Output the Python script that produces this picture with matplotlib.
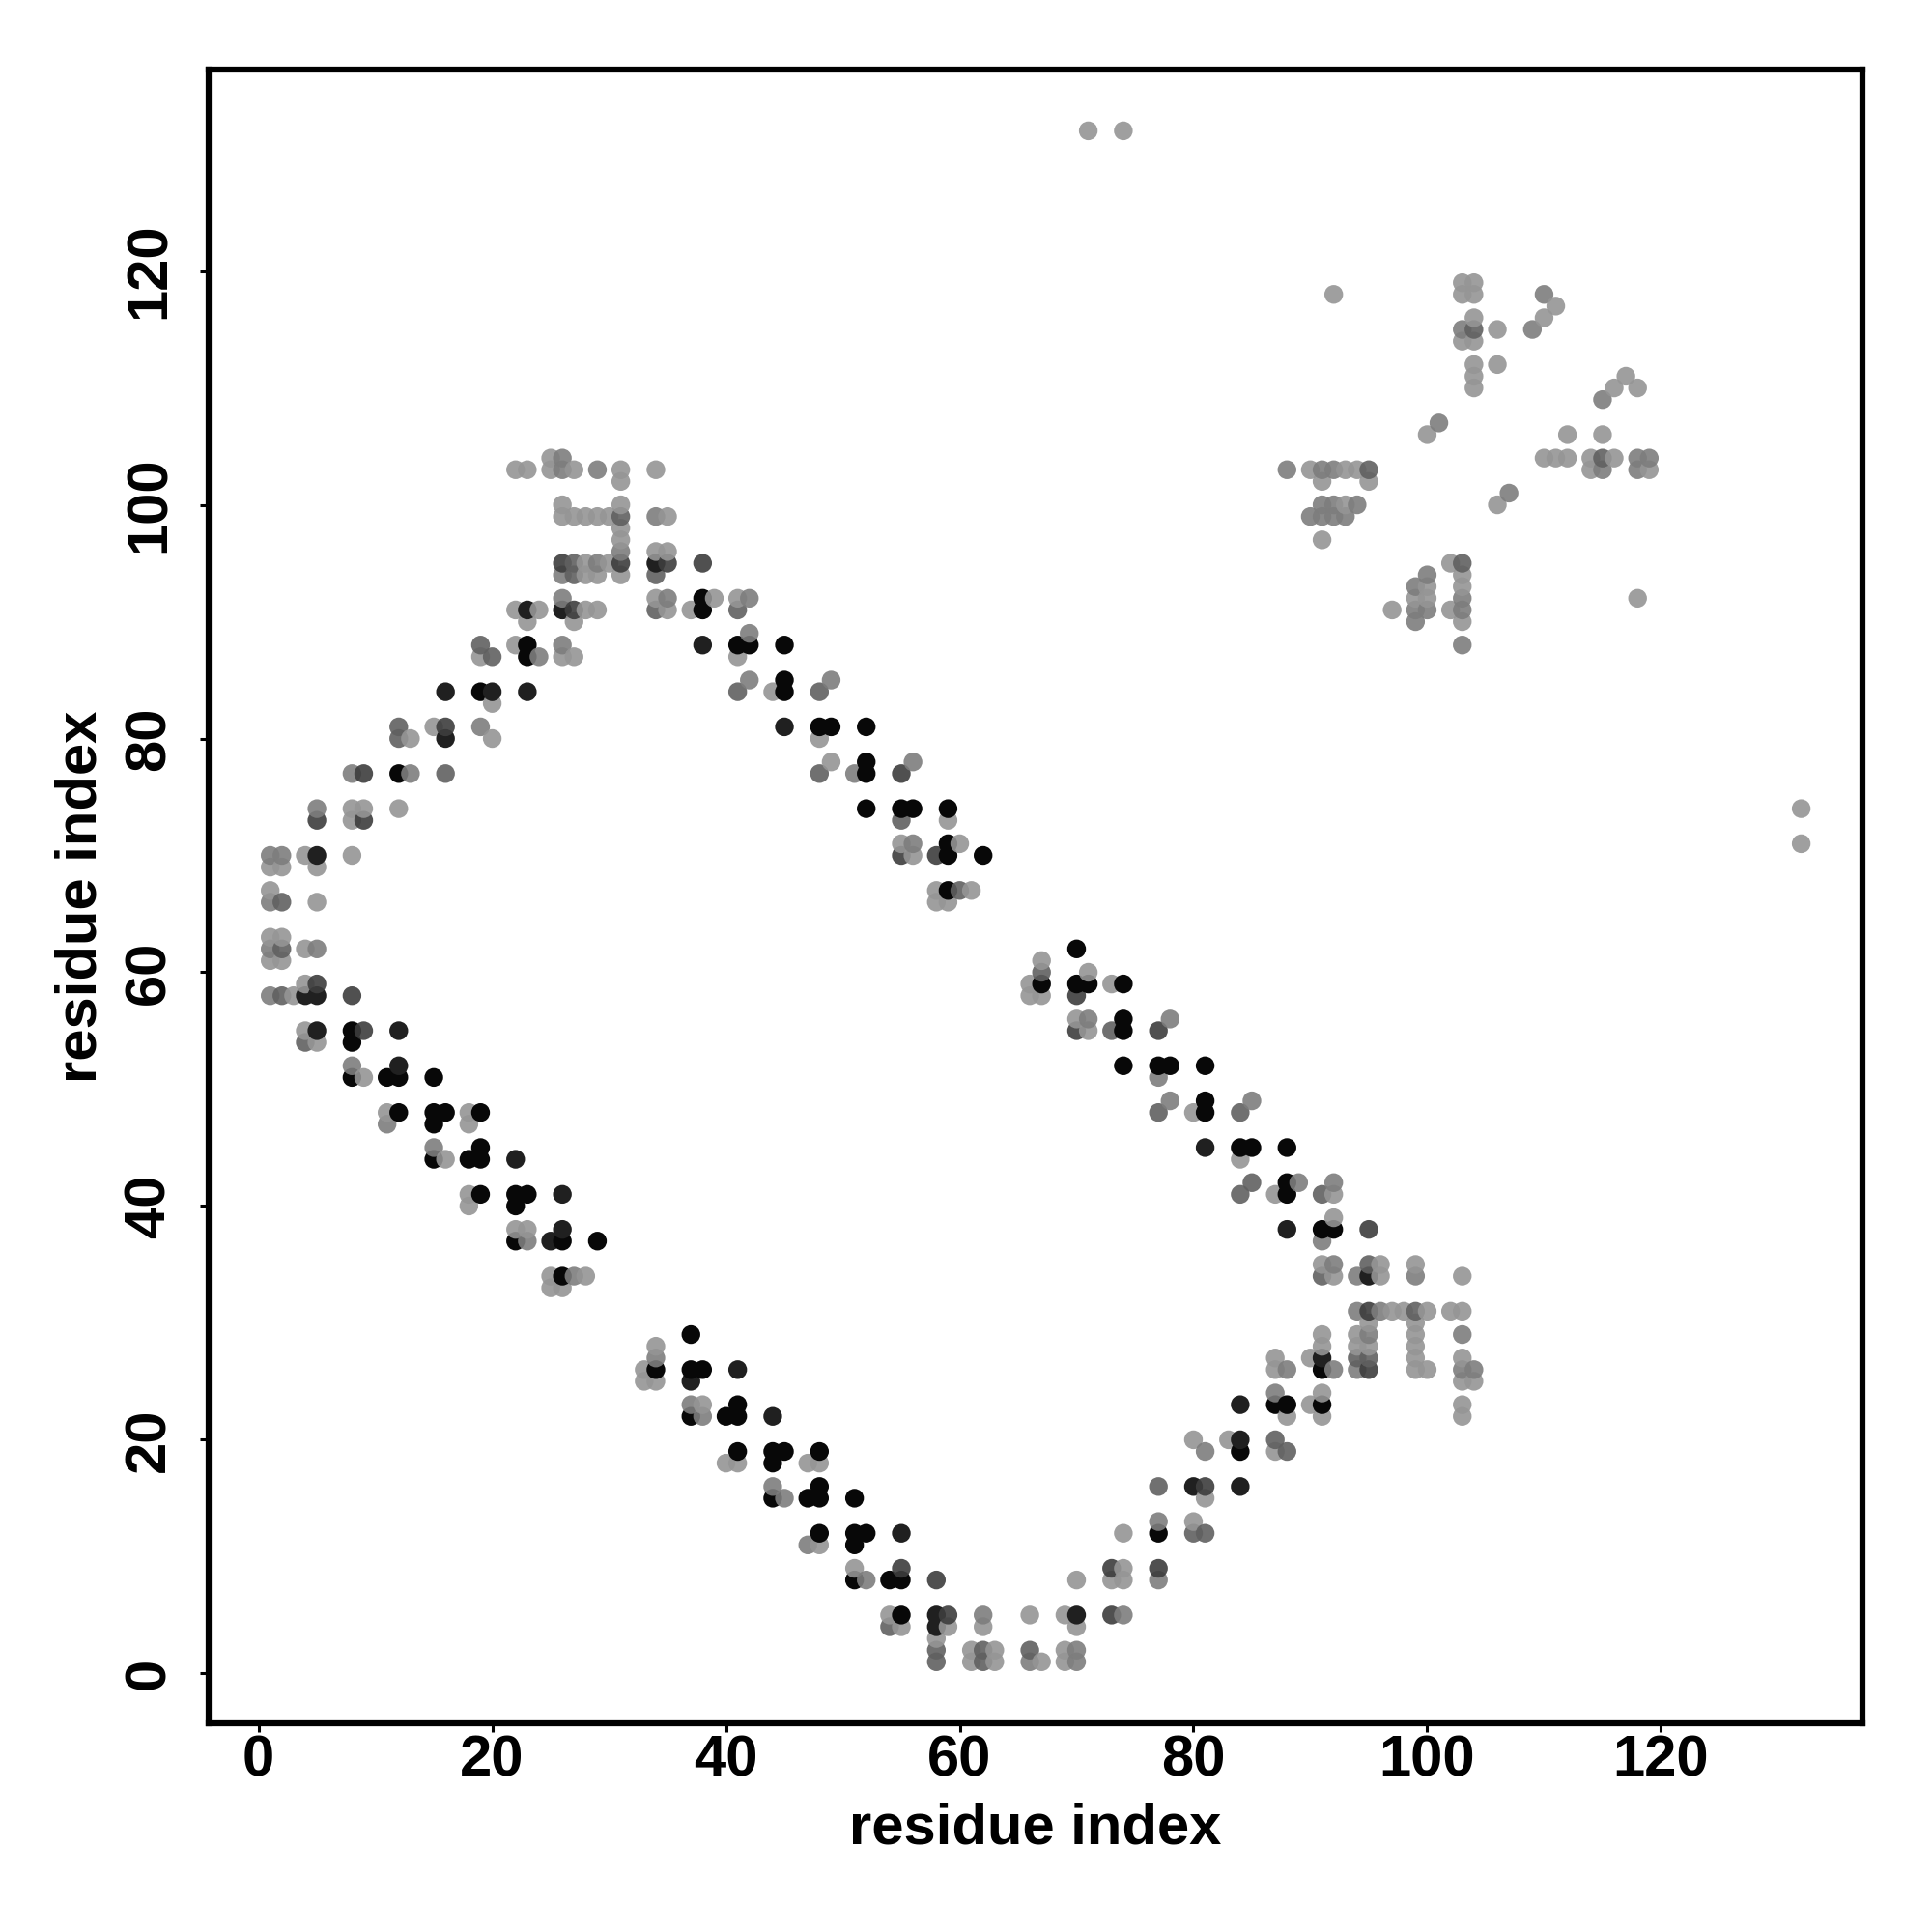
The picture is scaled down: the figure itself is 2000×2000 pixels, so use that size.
import numpy as np
import matplotlib
matplotlib.use("Agg")
from matplotlib import pyplot as plt

plt.rcParams['font.family'] = ['Liberation Sans', 'DejaVu Sans']

# contacts, one entry per row of the map
y_rows = [132, 119, 118, 117, 116, 115, 114, 112, 111, 110, 109, 107, 106, 104, 103, 102, 101, 100,
          99, 98, 97, 96, 95, 94, 93, 92, 91, 90, 89, 88, 87, 85, 84, 83, 81, 80, 78, 77, 74, 73,
          71, 70, 69, 67, 66, 63, 62, 61, 60, 59, 58, 56, 55, 54, 52, 51, 49, 48, 47, 45, 44, 42,
          41, 40, 39, 38, 37, 35, 34, 33, 31, 30, 29, 28, 27, 26, 25, 24, 23, 22, 20, 19, 18, 16,
          15, 13, 12, 11, 9, 8, 5, 4, 3, 2, 1]
x_rows = [
    [71, 74], [103, 104], [92, 103, 104, 110], [111], [104, 110], [103, 104, 106, 109], [103, 104],
    [104, 106], [104, 117], [104, 116, 118], [115], [101], [100, 112, 115],
    [25, 26, 110, 111, 112, 114, 115, 116, 118, 119],
    [22, 23, 25, 26, 27, 29, 31, 34, 88, 90, 91, 92, 93, 94, 95, 114, 115, 118, 119],
    [31, 91, 95], [107], [26, 31, 91, 92, 93, 94, 106],
    [26, 27, 28, 29, 30, 31, 34, 35, 90, 91, 92, 93], [31], [31, 91], [31, 34, 35],
    [26, 27, 28, 29, 30, 31, 34, 35, 38, 102, 103],
    [26, 27, 28, 29, 31, 34, 100, 103], [99, 100, 103],
    [26, 34, 35, 38, 39, 41, 42, 99, 100, 103, 118],
    [22, 23, 24, 26, 27, 28, 29, 34, 35, 37, 38, 41, 97, 99, 100, 102, 103],
    [23, 27, 99, 103], [42], [19, 22, 23, 26, 38, 41, 42, 45, 103],
    [19, 20, 23, 24, 26, 27, 41], [42, 45, 49], [16, 19, 20, 23, 41, 44, 45, 48], [20],
    [12, 15, 16, 19, 45, 48, 49, 52], [12, 13, 16, 20, 48], [49, 52, 56],
    [8, 9, 12, 13, 16, 48, 51, 52, 55], [5, 8, 9, 12, 52, 55, 56, 59, 132], [5, 8, 9, 55, 59],
    [55, 56, 59, 60, 132], [1, 2, 4, 5, 8, 55, 56, 58, 59, 62], [1, 2, 5], [1, 58, 59, 60, 61],
    [1, 2, 5, 58, 59], [1, 2], [1, 2, 4, 5, 70], [1, 2, 67], [67, 71],
    [4, 5, 66, 67, 70, 71, 73, 74], [1, 2, 3, 4, 5, 8, 66, 67, 70], [70, 71, 74, 78],
    [4, 5, 8, 9, 12, 70, 71, 73, 74, 77], [4, 5, 8], [8, 12, 74, 77, 78, 81],
    [8, 9, 11, 12, 15, 77], [78, 81, 85], [11, 12, 15, 16, 18, 19, 77, 80, 81, 84], [11, 15, 18],
    [15, 19, 81, 84, 85, 88], [15, 16, 18, 19, 22, 84], [85, 88, 89, 92],
    [18, 19, 22, 23, 26, 84, 87, 88, 91, 92], [18, 22], [92], [22, 23, 26, 88, 91, 92, 95],
    [22, 23, 25, 26, 29, 91], [91, 92, 95, 96, 99],
    [25, 26, 27, 28, 91, 92, 94, 95, 96, 99, 103], [25, 26],
    [94, 95, 96, 97, 98, 99, 100, 102, 103], [95, 99], [37, 91, 94, 95, 99, 103],
    [34, 91, 94, 95, 99], [34, 87, 90, 91, 94, 95, 99, 103],
    [33, 34, 37, 38, 41, 87, 88, 91, 92, 94, 95, 99, 100, 103, 104], [33, 34, 37, 103, 104],
    [87, 91], [37, 38, 41, 84, 87, 88, 90, 91, 103], [37, 38, 40, 41, 44, 88, 91, 103],
    [80, 83, 84, 87], [41, 44, 45, 48, 81, 84, 87, 88], [40, 41, 44, 47, 48],
    [44, 48, 77, 80, 81, 84], [44, 45, 47, 48, 51, 81], [77, 80],
    [48, 51, 52, 55, 74, 77, 80, 81], [47, 48, 51], [51, 55, 73, 74, 77],
    [51, 52, 54, 55, 58, 70, 73, 74, 77], [54, 55, 58, 59, 62, 66, 69, 70, 73, 74],
    [54, 55, 58, 59, 62, 70], [58], [58, 61, 62, 63, 66, 69, 70], [58, 61, 62, 63, 66, 67, 69, 70],
]
# shade of each contact, same order: P pale, M mid, S slate, D dim, N near black, K black
shade_rows = [
    "PP", "PP", "PPPM", "P", "PP", "MSPM", "PP",
    "PP", "PP", "PPP", "M", "M", "PPP",
    "PMPPPPSPMM",
    "PPPMPMPPMPMMPPSPMMP",
    "PPP", "M", "PPMMPMP",
    "PPPPPSMPMMMM", "P", "PP", "MPP",
    "DSPMPDNDDPS",
    "MSPPPSMP", "MPP",
    "MPMKPPMPPMP",
    "PNPNDPPSPPKSPMMPM",
    "PPMP", "M", "SPKMNKKKM",
    "PSKMPPP", "MKM", "NKNNSPKS", "P",
    "SPDMNKKK", "SPNPP", "PKM",
    "MDKMSSMKD", "MPPPKKKKP", "DPDSP",
    "PMKPP", "MMPNPDPDKK", "PPP", "PPKSP",
    "MSPPP", "PP", "MSPMK", "PPP", "SP",
    "PDPKKKPK", "MSPNNDPPD", "PMKM",
    "PNKDNDPSKD", "SPK", "MNKKKK",
    "KPKKKM", "MKM", "PKKKPKSPKS", "MKP",
    "MKNKKK", "KPKKNP", "SKMM",
    "PKKKNSPKSP", "PK", "P", "PPNNKKD",
    "KMNKKM", "PMSPP",
    "PKMPSPMNPMP", "PP",
    "MDMPPSPPP", "PP", "KPPMPM",
    "PPPPP", "MPPNSSPP",
    "PKKKNPMKMMDPPMM", "PPNPP",
    "MP", "MPKNKKPKP", "KMKKNPPP",
    "PPNS", "KKKKMKPS", "PPKPP",
    "MKSNDN", "KMKKKP", "MP",
    "KKKNPKSS", "MPK", "PDDPD",
    "KMKKDPPPM", "PKNDMPPNDM",
    "SPNPPP", "P", "SPSPSPM", "SPSPMPPM",
]

# displayed gray level of each shade code
shade_gray = {"P": 0xa0, "M": 0x8a, "S": 0x70, "D": 0x50, "N": 0x20, "K": 0x08}

res_x, res_y, res_g = [], [], []
for y, xs, codes in zip(y_rows, x_rows, shade_rows, strict=True):
    for x, code in zip(xs, codes, strict=True):
        res_x.append(x)
        res_y.append(y)
        res_g.append(shade_gray[code])
res_x = np.array(res_x)
res_y = np.array(res_y)
res_g = np.array(res_g)

# later residues sit on top of earlier ones
order = np.lexsort((res_y, res_x))
res_x, res_y, res_g = res_x[order], res_y[order], res_g[order]

alpha = np.where(res_g > 0x40, 0.9, 1.0)
gray = (res_g - 255 * (1 - alpha)) / alpha / 255
colors = np.column_stack((gray, gray, gray, alpha))

fig = plt.figure(figsize=(20, 20), dpi=100)
ax = fig.add_axes([216.3 / 2000, 1 - 1783.7 / 2000, (1928 - 216.3) / 2000, (1783.7 - 72) / 2000])
ax.scatter(res_x, res_y, s=195, c=colors, linewidths=0)
ax.set_xlim(-4.24, 137.24)
ax.set_ylim(-4.24, 137.24)

ticks = np.arange(0, 121, 20)
ax.set_xticks(ticks)
ax.set_yticks(ticks)
ax.tick_params(axis='both', length=6.5, width=2.2, labelsize=43)
ax.tick_params(axis='x', pad=2)
ax.tick_params(axis='y', pad=18)
for t in ax.get_xticklabels() + ax.get_yticklabels():
    t.set_fontweight('bold')
for t in ax.get_yticklabels():
    t.set_rotation(90)
    t.set_va('center')
for s in ax.spines.values():
    s.set_linewidth(4.5)

ax.set_xlabel("residue index", fontsize=43, fontweight='bold', labelpad=11)
ax.set_ylabel("residue index", fontsize=43, fontweight='bold', labelpad=11)

plt.savefig("out.png", dpi=100)
